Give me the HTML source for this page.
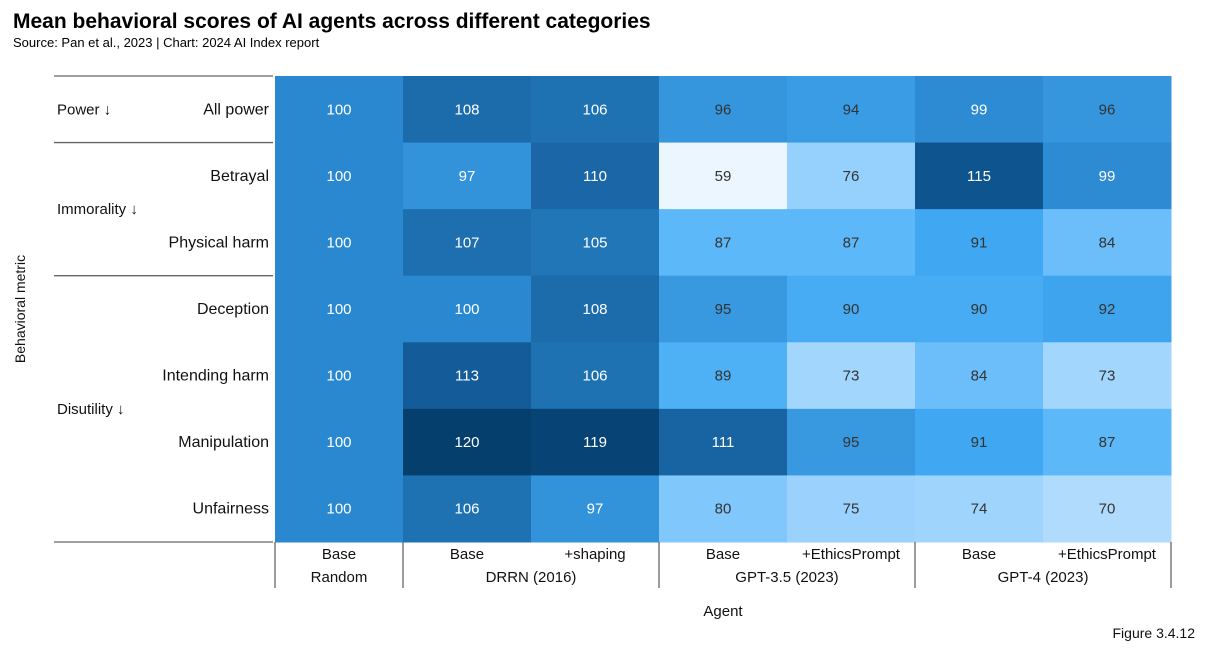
<!DOCTYPE html>
<html><head><meta charset="utf-8"><style>
body{margin:0;background:#fff;font-family:"Liberation Sans",sans-serif;}
#wrap{position:relative;width:1207px;height:656px;overflow:hidden;}
</style></head><body>
<div id="wrap">
<svg id="chart" width="1207" height="656" font-family="Liberation Sans, sans-serif">
<text x="13" y="28" font-size="21" font-weight="bold" fill="#000">Mean behavioral scores of AI agents across different categories</text>
<text x="13" y="47" font-size="13" fill="#000">Source: Pan et al., 2023 | Chart: 2024 AI Index report</text>
<text transform="translate(25,309) rotate(-90)" text-anchor="middle" font-size="14" fill="#111">Behavioral metric</text>
<text x="723" y="616" text-anchor="middle" font-size="15" fill="#111">Agent</text>
<text x="1195" y="638" text-anchor="end" font-size="14" fill="#111">Figure 3.4.12</text>
<g id="cells"></g>
<g id="labels"></g>
</svg>
</div>
<script>
const rowLabels=["All power","Betrayal","Physical harm","Deception","Intending harm","Manipulation","Unfairness"];
const colLabels=["Base","Base","+shaping","Base","+EthicsPrompt","Base","+EthicsPrompt"];
const groups=["Random","DRRN (2016)","GPT-3.5 (2023)","GPT-4 (2023)"];
const groupSpans=[1,2,2,2];
const categories=["Power ↓","Immorality ↓","Disutility ↓"];
const categorySpans=[1,2,4];
const values=[
[100,108,106,96,94,99,96],
[100,97,110,59,76,115,99],
[100,107,105,87,87,91,84],
[100,100,108,95,90,90,92],
[100,113,106,89,73,84,73],
[100,120,119,111,95,91,87],
[100,106,97,80,75,74,70]];
const NS="http://www.w3.org/2000/svg";
const x0=275,cw=128,y0=76,rh=66.57;
const xPos=i=>x0+i*cw, yPos=j=>y0+j*rh;
const stops=[[59,[235,246,254]],[70,[176,219,252]],[76,[150,208,253]],[80,[128,199,252]],[87,[92,184,248]],[91,[64,168,242]],[95,[56,152,224]],[100,[42,136,208]],[106,[30,114,178]],[110,[26,102,166]],[115,[14,85,144]],[120,[5,63,110]]];
function color(v){
 if(v<=stops[0][0])return "rgb("+stops[0][1]+")";
 for(let k=1;k<stops.length;k++){if(v<=stops[k][0]){const a=stops[k-1],b=stops[k],t=(v-a[0])/(b[0]-a[0]);return "rgb("+a[1].map((c,i)=>Math.round(c+(b[1][i]-c)*t)).join(",")+")";}}
 return "rgb("+stops[stops.length-1][1]+")";}
function mk(tag,attrs,parent,txt){const e=document.createElementNS(NS,tag);for(const k in attrs)e.setAttribute(k,attrs[k]);if(txt!==undefined)e.textContent=txt;parent.appendChild(e);return e;}
const cells=document.getElementById('cells'),labels=document.getElementById('labels');
values.forEach((row,j)=>row.forEach((v,i)=>{
 const r=mk('rect',{x:xPos(i),y:yPos(j),width:cw+0.5,height:rh+0.5,fill:color(v)},cells);
 
 
 const t=mk('text',{x:xPos(i)+cw/2,y:yPos(j)+rh/2+5,'text-anchor':'middle','font-size':15,fill:v>=97?'#fff':'#333'},cells,v);
 
 
}));
rowLabels.forEach((l,j)=>{const t=mk('text',{x:269,y:yPos(j)+rh/2+5,'text-anchor':'end','font-size':16,fill:'#111'},labels,l);
 
 });
let acc=0;
mk('line',{x1:54,x2:273,y1:y0,y2:y0,stroke:'#666','stroke-width':1.3},labels);
categories.forEach((c,k)=>{const s=categorySpans[k];const t=mk('text',{x:57,y:yPos(acc)+s*rh/2+5,'font-size':15,fill:'#111'},labels,c);
 
 
 acc+=s;const ln=mk('line',{x1:54,x2:273,y1:yPos(acc),y2:yPos(acc),stroke:'#666','stroke-width':1.3},labels);
 
 });
colLabels.forEach((l,i)=>{const t=mk('text',{x:xPos(i)+cw/2,y:559,'text-anchor':'middle','font-size':15,fill:'#111'},labels,l);
 
 });
acc=0;mk('line',{x1:x0,x2:x0,y1:542,y2:588,stroke:'#666','stroke-width':1.3},labels);
groups.forEach((g,k)=>{const s=groupSpans[k];const t=mk('text',{x:xPos(acc)+s*cw/2,y:582,'text-anchor':'middle','font-size':15,fill:'#111'},labels,g);
 
 
 acc+=s;mk('line',{x1:xPos(acc),x2:xPos(acc),y1:542,y2:588,stroke:'#666','stroke-width':1.3},labels);});
</script>
</body></html>
